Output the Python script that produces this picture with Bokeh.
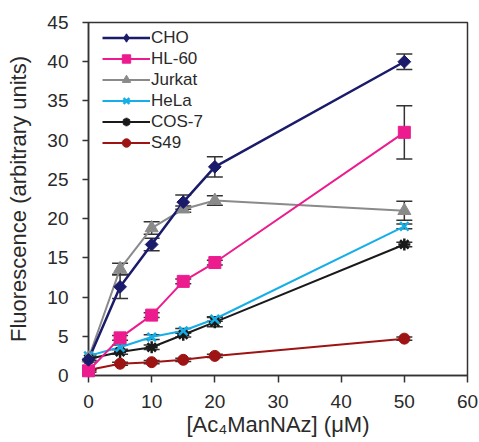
import math
from bokeh.plotting import figure
from bokeh.models import (ColumnDataSource, Whisker, Legend, LegendItem,
                          Range1d, SingleIntervalTicker, TeeHead)
from bokeh.embed import file_html
from bokeh.resources import INLINE

# ---- data ----
conc = [0, 5, 10, 15, 20, 50]
names = ["CHO", "HL-60", "Jurkat", "HeLa", "COS-7", "S49"]

cho = [2.0, 11.3, 16.7, 22.1, 26.6, 40.0]
cho_err = [0.3, 1.5, 0.8, 0.9, 1.3, 1.0]
hl60 = [0.6, 4.8, 7.7, 12.0, 14.4, 31.0]
hl60_err = [0.2, 0.3, 0.3, 0.3, 0.3, 3.4]
jurkat = [2.2, 13.6, 18.8, 21.2, 22.3, 21.0]
jurkat_err = [0.3, 0.7, 0.8, 0.4, 0.6, 1.2]
hela = [2.5, 3.6, 4.9, 5.7, 7.2, 19.0]
hela_err = [0.2, 0.3, 0.3, 0.3, 0.3, 0.3]
cos7 = [2.1, 3.0, 3.6, 5.2, 6.8, 16.7]
cos7_err = [0.2, 0.3, 0.3, 0.3, 0.6, 0.3]
s49 = [0.7, 1.5, 1.7, 2.0, 2.5, 4.7]
s49_err = [0.1, 0.2, 0.2, 0.2, 0.2, 0.2]

x_ticks_interval = 10
y_ticks_interval = 5

series = [cho, hl60, jurkat, hela, cos7, s49]
errors = [cho_err, hl60_err, jurkat_err, hela_err, cos7_err, s49_err]
colors = ["#1b1b6b", "#ec1c8e", "#8a8a8a", "#16aee6", "#1a1a1a", "#9e1414"]
markers = ["square", "square", "triangle", "x", "asterisk", "circle"]
legend_markers = ["diamond", "square", "triangle", "x", "asterisk", "circle"]
angles = [math.pi / 4, 0, 0, 0, 0, 0]
msizes = [9, 12, 13, 12, 12, 11]
lwidths = [2.5, 2, 2, 2, 2, 2]

FONT = "Liberation Sans"
TXT = "#2a2a2a"

p = figure(width=479, height=442, output_backend="svg", toolbar_location=None,
           x_range=Range1d(0, 60), y_range=Range1d(0, 45),
           min_border_left=88, min_border_right=12, min_border_top=22, min_border_bottom=67)
p.grid.visible = False
p.outline_line_color = "#333333"
p.outline_line_width = 1.5

for ax in (p.xaxis[0], p.yaxis[0]):
    ax.axis_line_color = "#333333"
    ax.axis_line_width = 1.5
    ax.major_tick_line_color = "#333333"
    ax.major_tick_line_width = 1.5
    ax.major_tick_in = 0
    ax.minor_tick_out = 0
    ax.minor_tick_in = 0
    ax.major_label_text_font = FONT
    ax.major_label_text_font_size = "19px"
    ax.major_label_text_color = TXT
    ax.axis_label_text_font = FONT
    ax.axis_label_text_font_size = "22px"
    ax.axis_label_text_font_style = "normal"
    ax.axis_label_text_color = TXT

p.xaxis.ticker = SingleIntervalTicker(interval=x_ticks_interval)
p.yaxis.ticker = SingleIntervalTicker(interval=y_ticks_interval)
p.xaxis.major_tick_out = 7
p.yaxis.major_tick_out = 6
p.xaxis.major_label_standoff = 12
p.yaxis.major_label_standoff = 14

p.yaxis.axis_label = "Fluorescence (arbitrary units)"
p.yaxis.axis_label_standoff = 13
p.xaxis.axis_label = "[Ac\u2084ManNAz] (\u03bcM)"
p.xaxis.axis_label_standoff = 1

# error bars
wx, wl, wu = [], [], []
for vals, errs in zip(series, errors):
    for xv, v, e in zip(conc, vals, errs):
        wx.append(xv)
        wl.append(v - e)
        wu.append(v + e)
wsrc = ColumnDataSource(dict(x=wx, lower=wl, upper=wu))
p.add_layout(Whisker(source=wsrc, base="x", lower="lower", upper="upper",
                     line_color="#333333", line_width=1.5,
                     upper_head=TeeHead(size=16, line_color="#333333", line_width=1.5),
                     lower_head=TeeHead(size=16, line_color="#333333", line_width=1.5)))

rend = {}
for i in list(range(len(series)))[::-1]:
    src = ColumnDataSource(dict(x=conc, y=series[i]))
    lr = p.line("x", "y", source=src, line_color=colors[i], line_width=lwidths[i])
    if markers[i] in ("x", "asterisk"):
        sr = p.scatter("x", "y", source=src, marker=markers[i], size=msizes[i],
                       line_color=colors[i], line_width=2.5, fill_color=colors[i])
    else:
        sr = p.scatter("x", "y", source=src, marker=markers[i], size=msizes[i],
                       angle=angles[i], line_color=colors[i], fill_color=colors[i],
                       line_width=1)
    sr.level = "overlay"
    lsr = sr
    if legend_markers[i] != markers[i]:
        # legend-only glyph (an undrawable NaN point) so the legend shows a diamond
        lsr = p.scatter(x=[float("nan")], y=[float("nan")], marker=legend_markers[i],
                        size=msizes[i], line_color=colors[i], fill_color=colors[i],
                        line_width=1)
    rend[i] = (lr, lsr)

items = [LegendItem(label=names[i], renderers=list(rend[i])) for i in range(len(series))]

legend = Legend(items=items, location=(14, 222), border_line_alpha=0,
                background_fill_alpha=0, label_text_font=FONT,
                label_text_font_size="17px", label_text_color=TXT,
                glyph_width=48, glyph_height=21, label_height=21, spacing=0,
                padding=0, margin=0, label_standoff=1)
p.add_layout(legend)

open("out.html", "w").write(file_html(p, INLINE))
